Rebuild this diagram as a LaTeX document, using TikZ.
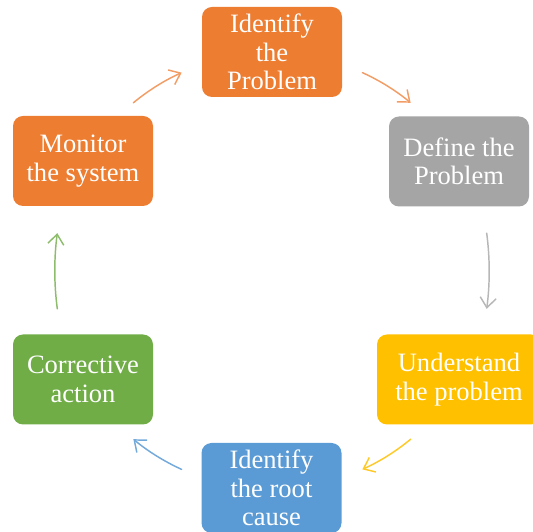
\documentclass[tikz,border=0pt]{standalone}
\usepackage{fontspec}
\setmainfont{Liberation Serif}
\usetikzlibrary{arrows.meta}

\definecolor{cOrange}{HTML}{ED7D31}
\definecolor{cGray}{HTML}{A5A5A5}
\definecolor{cGold}{HTML}{FFC000}
\definecolor{cBlue}{HTML}{5B9BD5}
\definecolor{cGreen}{HTML}{70AD47}

% taller first line, used to lower a label inside its box
\newcommand\topstrut{\rule{0pt}{21pt}}

\tikzset{
  stage/.style={rounded corners=7.5pt, inner sep=0pt, align=center,
    minimum width=105pt, minimum height=67.5pt, text=white,
    font=\fontsize{19.9}{21.4}\selectfont},
  flow/.style={line width=1.1pt, line cap=round,
    -{Straight Barb[length=7.5pt,width=12pt,line width=1.1pt]},
    bend left=7.6, looseness=0.85},
}

\begin{document}
\begin{tikzpicture}[x=0.75pt,y=0.75pt]
\useasboundingbox (0,0) rectangle (533,532);

% process stages
\node[stage, fill=cOrange] (identify) at (272,480) {Identify\\the\\Problem};
\node[stage, fill=cGray]   (define)   at (459,370.5) {Define the\\Problem};
\node[stage, fill=cGold, minimum width=123pt] (understand) at (459,152.5) {Understand\\the problem};
\node[stage, fill=cBlue]   (root)     at (271.5,44) {Identify\\the root\\cause};
\node[stage, fill=cGreen]  (corrective) at (83,152.5) {Corrective\\action};
\node[stage, fill=cOrange, execute at begin node=\topstrut] (monitor) at (83,371) {Monitor\\the system};

% arrow end points on a common circle
\coordinate (ctr) at (272,261);
\path (ctr) ++(129.5:218) coordinate (a1s) (ctr) ++(114.5:218) coordinate (a1e);
\path (ctr) ++(65.5:218)  coordinate (a2s) (ctr) ++(50.5:218)  coordinate (a2e);
\path (ctr) ++(10:218)    coordinate (a3s) (ctr) ++(-10:218)   coordinate (a3e);
\path (ctr) ++(-50.5:218) coordinate (a4s) (ctr) ++(-65.5:218) coordinate (a4e);
\path (ctr) ++(-114.5:218) coordinate (a5s) (ctr) ++(-129.5:218) coordinate (a5e);
\path (ctr) ++(190:218)   coordinate (a6s) (ctr) ++(170:218)   coordinate (a6e);

% cycle arrows
\draw[flow, draw=cOrange!75!white] (a1s) to (a1e);
\draw[flow, draw=cOrange!75!white] (a2s) to (a2e);
\draw[flow, draw=cGray!80!white]   (a3s) to (a3e);
\draw[flow, draw=cGold!85!white]   (a4s) to (a4e);
\draw[flow, draw=cBlue!85!white]   (a5s) to (a5e);
\draw[flow, draw=cGreen!80!white]  (a6s) to (a6e);
\end{tikzpicture}
\end{document}
